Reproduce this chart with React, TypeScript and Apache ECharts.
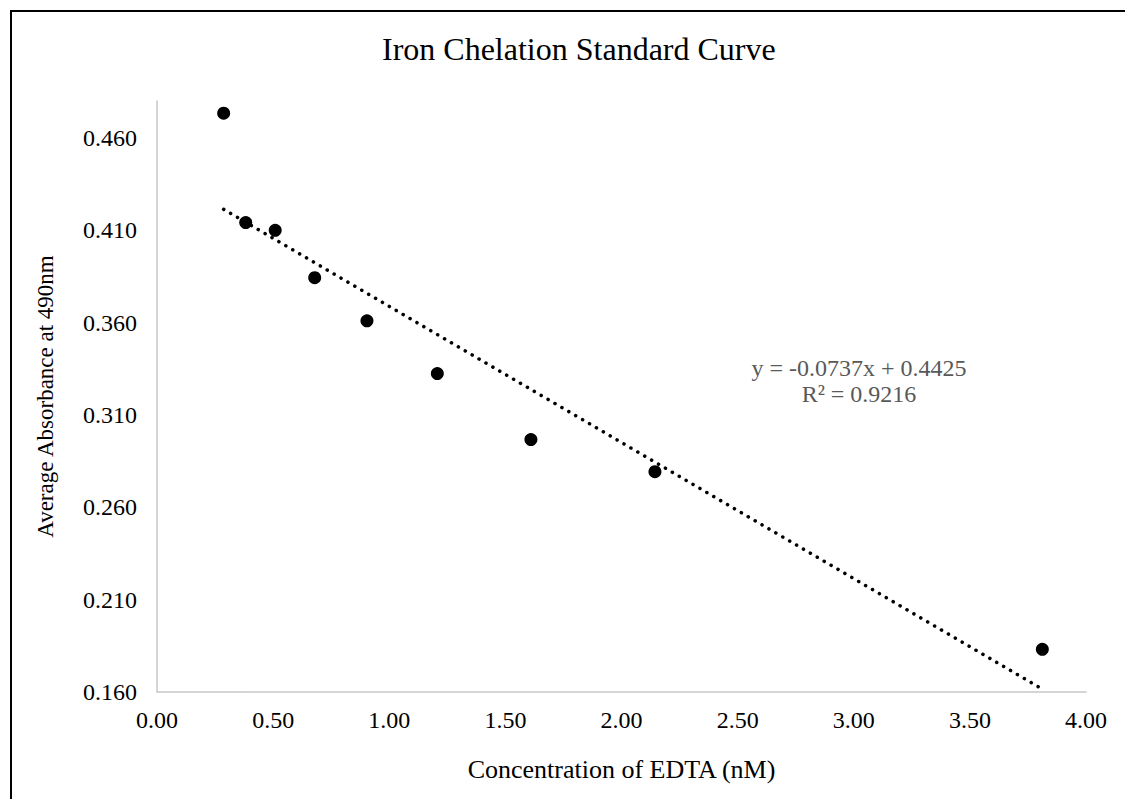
import React, { useEffect, useRef } from "react";
import * as echarts from "echarts";

const concentrations = [0.287, 0.382, 0.509, 0.679, 0.904, 1.207, 1.61, 2.144, 3.812];
const absorbances = [0.4734, 0.4142, 0.41, 0.3843, 0.361, 0.3324, 0.2967, 0.2793, 0.1831];
const trendSlope = [-0.0737];
const trendIntercept = [0.4425];
const equationLines = ["y = -0.0737x + 0.4425", "R² = 0.9216"];
const titleText = "Iron Chelation Standard Curve";
const xName = "Concentration of EDTA (nM)";
const yName = "Average Absorbance at 490nm";

const FONT = "'Liberation Serif', 'Times New Roman', serif";

export default function App() {
  const ref = useRef<HTMLDivElement>(null);
  useEffect(() => {
    if (!ref.current) return;
    const chart = echarts.init(ref.current, null, { renderer: "svg" });
    const xMin = Math.min(...concentrations);
    const xMax = Math.max(...concentrations);
    const trend = [
      [xMin, trendSlope[0] * xMin + trendIntercept[0]],
      [xMax, trendSlope[0] * xMax + trendIntercept[0]],
    ];
    const points = concentrations.map((c, i) => [c, absorbances[i]]);
    chart.setOption({
      animation: false,
      backgroundColor: "#ffffff",
      title: {
        text: titleText,
        left: 377,
        top: 28,
        textStyle: { fontFamily: FONT, fontSize: 32, fontWeight: "normal", color: "#000" },
      },
      grid: { left: 157, right: 39, top: 101, bottom: 107 },
      xAxis: {
        type: "value",
        min: 0,
        max: 4,
        interval: 0.5,
        name: xName,
        nameLocation: "middle",
        nameGap: 64,
        nameTextStyle: { fontFamily: FONT, fontSize: 26, color: "#000" },
        axisLine: { show: true, lineStyle: { color: "#c8c8c8", width: 1.5 } },
        axisTick: { show: false },
        splitLine: { show: false },
        axisLabel: {
          fontFamily: FONT,
          fontSize: 24,
          color: "#000",
          margin: 16,
          formatter: (v: number) => v.toFixed(2),
        },
      },
      yAxis: {
        type: "value",
        min: 0.16,
        max: 0.48,
        interval: 0.05,
        name: yName,
        nameLocation: "middle",
        nameRotate: 90,
        nameGap: 100,
        nameTextStyle: { fontFamily: FONT, fontSize: 23, color: "#000" },
        axisLine: { show: true, lineStyle: { color: "#c8c8c8", width: 1.5 } },
        axisTick: { show: false },
        splitLine: { show: false },
        axisLabel: {
          fontFamily: FONT,
          fontSize: 24,
          color: "#000",
          margin: 20,
          showMaxLabel: false,
          formatter: (v: number) => (Math.abs(v - 0.48) < 1e-6 ? "" : v.toFixed(3)),
        },
      },
      graphic: [
        {
          type: "rect",
          shape: { x: 11, y: 11, width: 1200, height: 900 },
          style: { fill: "none", stroke: "#000", lineWidth: 2 },
          silent: true,
        },
        {
          type: "text",
          x: 859,
          y: 368,
          style: {
            text: equationLines[0],
            font: `24px ${FONT}`,
            fill: "#595959",
            textAlign: "center",
            textVerticalAlign: "middle",
          },
        },
        {
          type: "text",
          x: 859,
          y: 394,
          style: {
            text: equationLines[1],
            font: `24px ${FONT}`,
            fill: "#595959",
            textAlign: "center",
            textVerticalAlign: "middle",
          },
        },
      ],
      series: [
        {
          type: "line",
          data: trend,
          showSymbol: false,
          symbol: "none",
          silent: true,
          lineStyle: { color: "#000", width: 3.5, type: [0.1, 7.9], cap: "round" },
          z: 2,
        },
        {
          type: "scatter",
          data: points,
          symbol: "circle",
          symbolSize: 13,
          itemStyle: { color: "#000", opacity: 1 },
          z: 3,
        },
      ],
    });
    return () => chart.dispose();
  }, []);
  return (
    <div
      ref={ref}
      style={{ position: "fixed", left: 0, top: 0, width: 1125, height: 799, background: "#fff" }}
    />
  );
}
